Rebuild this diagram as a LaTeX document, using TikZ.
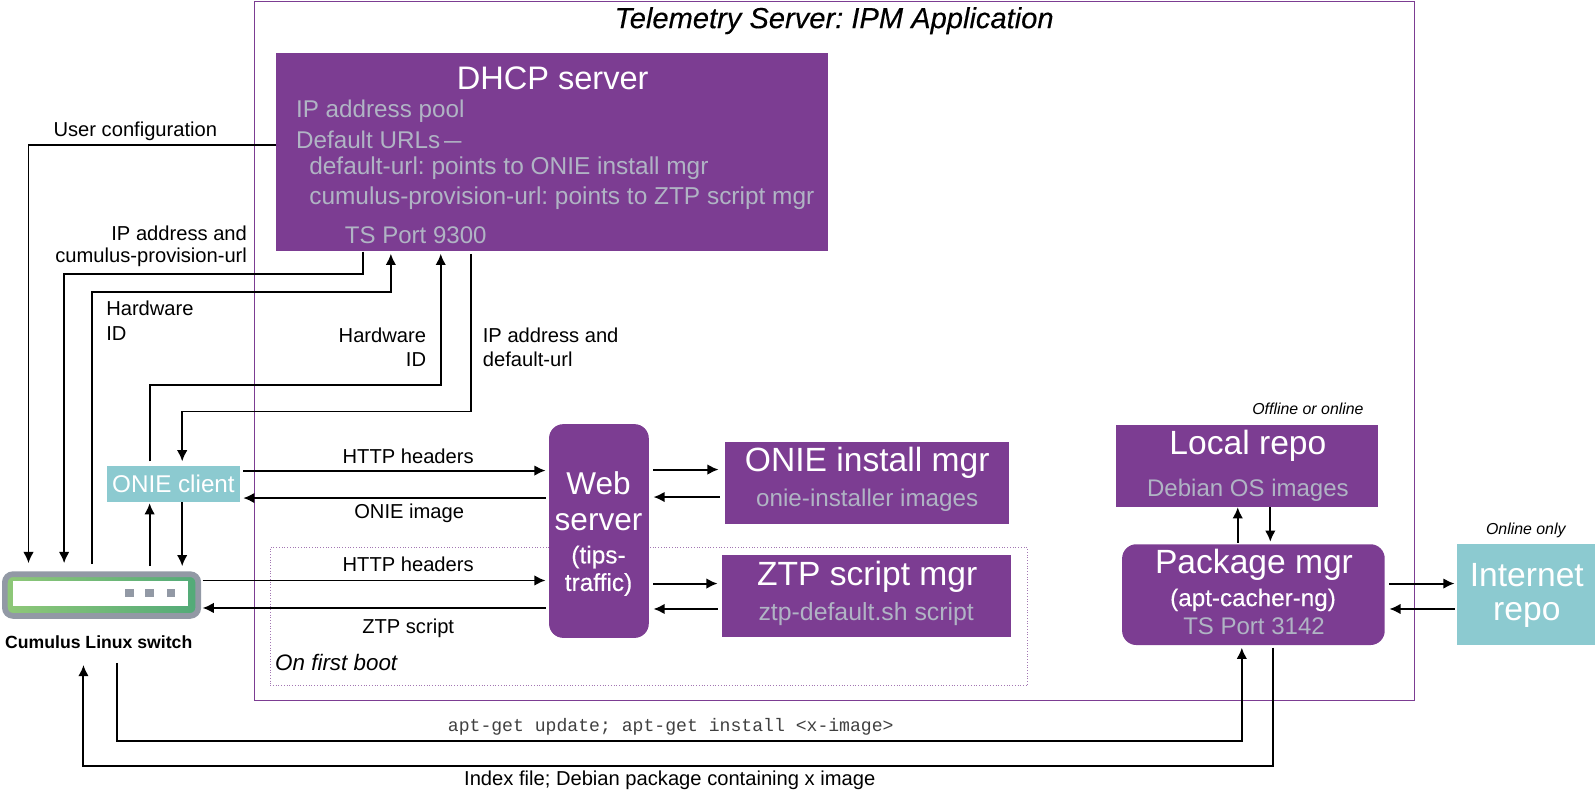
\documentclass[tikz,border=0pt]{standalone}
\usepackage{fontspec}
\setmainfont{Liberation Sans}
\setmonofont{Liberation Mono}
\newfontfamily\medf[FakeBold=0.25]{Liberation Sans}
\usetikzlibrary{arrows.meta,calc}
\definecolor{pur}{RGB}{124,61,146}
\definecolor{teal1}{RGB}{140,202,208}
\definecolor{lgray}{RGB}{176,180,196}
\definecolor{sgray}{RGB}{146,153,165}
\definecolor{gl}{RGB}{143,200,120}
\definecolor{gr}{RGB}{82,170,120}
\newcommand{\fs}[1]{\fontsize{#1}{#1}\selectfont}
\frenchspacing
\tikzset{
  x=0.5pt,y=-0.5pt,
  conn/.style={line width=0.95pt,black},
  arr/.style={conn,-{Latex[length=5.5pt,width=5.2pt]}},
  pbox/.style={fill=pur,draw=none,inner sep=0pt,anchor=north west},
  lab/.style={font=\fs{9.9},text=black,inner sep=0pt},
  grey/.style={text=lgray,inner sep=0pt},
  white/.style={text=white,inner sep=0pt},
  head/.style={text=white,inner sep=0pt,font=\fs{16.5}}
}
\newcommand{\boxat}[6][]{\node[pbox,#1,minimum width=#4*0.5pt,minimum height=#5*0.5pt] (#6) at (#2,#3) {};}
\begin{document}
\begin{tikzpicture}
\useasboundingbox (1,0.7) rectangle (1568,780.7);
% frame
\node[draw=pur,line width=0.4pt,inner sep=0pt,anchor=north west,minimum width=569.5pt,minimum height=343pt] (frame) at (251,2) {};
\node[inner sep=0pt,font=\medf\fs{14.3}\itshape] (title) at (820.5,21) {Telemetry Server: IPM Application};
\node[draw=pur!70,densely dotted,line width=0.35pt,inner sep=0pt,anchor=north west,minimum width=372pt,minimum height=68pt] (boot) at (266,538) {};
\node[inner sep=0pt,anchor=west,font=\fs{11}\itshape] (bootl) at (271,652) {On first boot};
% boxes
\boxat{272}{52}{542}{195}{dhcp}
\node[head,font=\fs{16}] (dhcpt) at (544,78) {DHCP server};
\node[grey,font=\fs{11.9},anchor=west] (d1) at (291.5,110) {IP address pool};
\node[grey,font=\fs{11.9},anchor=west] (d2) at (291.5,138) {Default URLs\,\scalebox{.72}[1]{—}};
\node[grey,font=\fs{12},anchor=west] (d3) at (304.5,166) {default-url: points to ONIE install mgr};
\node[grey,font=\fs{12},anchor=west] (d4) at (304.5,195) {cumulus-provision-url: points to ZTP script mgr};
\node[grey,font=\fs{11.8},anchor=west] (d5) at (339.5,232) {TS Port 9300};
\node[fill=teal1,inner sep=0pt,anchor=north west,minimum width=65pt,minimum height=17.5pt,text=white,font=\fs{11.9}] (onie) at (106,458) {ONIE client};
\node[fill=pur,rounded corners=7pt,inner sep=0pt,anchor=north west,minimum width=49pt,minimum height=105pt] (web) at (540,417) {};
\node[white,font=\fs{15.5}] (w1) at (589,475) {Web};
\node[white,font=\fs{15.5}] (w2) at (589,514) {server};
\node[white,font=\medf\fs{12}] (w3) at (589,548) {(tips-};
\node[white,font=\medf\fs{12}] (w4) at (589,575) {traffic)};
\boxat{713}{435}{279}{80}{oim}
\node[head] (oim1) at (853,455) {ONIE install mgr};
\node[grey,font=\fs{11.9}] (oim2) at (853,492) {onie-installer images};
\boxat{710}{546}{284}{80}{ztp}
\node[head] (ztp1) at (853,567) {ZTP script mgr};
\node[grey,font=\fs{12.2}] (ztp2) at (852,604) {ztp-default.sh script};
\boxat{1097}{418}{257}{80}{repo}
\node[head] (repo1) at (1227,439) {Local repo};
\node[grey,font=\fs{11.8}] (repo2) at (1227,482) {Debian OS images};
\node[fill=pur,rounded corners=7pt,inner sep=0pt,anchor=north west,minimum width=129pt,minimum height=49.5pt] (pkg) at (1103,535) {};
\node[head] (pkg1) at (1233,556) {Package mgr};
\node[white,font=\medf\fs{11.9}] (pkg2) at (1232,590) {(apt-cacher-ng)};
\node[grey,font=\fs{11.8}] (pkg3) at (1233,616) {TS Port 3142};
\node[fill=teal1,inner sep=0pt,anchor=north west,minimum width=68pt,minimum height=49.5pt] (inet) at (1432,535) {};
\node[head] (i1) at (1501,566) {Internet};
\node[head] (i2) at (1501,605) {repo};
\node[inner sep=0pt,font=\fs{7.8}\itshape] (off) at (1286,402) {Offline or online};
\node[inner sep=0pt,font=\fs{7.8}\itshape] (onl) at (1500,522) {Online only};
% switch
\node[draw=sgray,line width=2.8pt,rounded corners=4pt,left color=gl,right color=gr,inner sep=0pt,anchor=north west,minimum width=95pt,minimum height=20.5pt] (sw) at (3,562) {};
\node[fill=white,inner sep=0pt,anchor=north west,minimum width=86pt,minimum height=12.2pt] (swi) at (13,571) {};
\foreach \xx/\nn in {127/a,147/b,168/c} \node[fill=sgray,inner sep=0pt,minimum size=4.2pt] (sq\nn) at (\xx+1,583.5) {};
\node[inner sep=0pt,font=\fs{8.66}\bfseries] (swl) at (98,632) {Cumulus Linux switch};
% connectors
\coordinate (u1) at (29,143); \coordinate (u2) at (29,554);
\draw[arr] (dhcp.west |- u1) -- (u1) -- (u2);
\coordinate (c0) at (358,248); \coordinate (c1) at (358,270); \coordinate (c2) at (64,270); \coordinate (c3) at (64,554);
\draw[arr] (c0) -- (c1) -- (c2) -- (c3);
\coordinate (h0) at (91,555); \coordinate (h1) at (91,288); \coordinate (h2) at (385,288); \coordinate (h3) at (385,250);
\draw[arr] (h0) -- (h1) -- (h2) -- (h3);
\coordinate (k0) at (148,454); \coordinate (k1) at (148,379); \coordinate (k2) at (434,379); \coordinate (k3) at (434,250);
\draw[arr] (k0) -- (k1) -- (k2) -- (k3);
\coordinate (m0) at (464,250); \coordinate (m1) at (464,405); \coordinate (m2) at (180,405); \coordinate (m3) at (180,454);
\draw[arr] (m0) -- (m1) -- (m2) -- (m3);
\coordinate (s1) at (148,557); \coordinate (s2) at (148,495);
\draw[arr] (s1) -- (s2);
\coordinate (s3) at (180,494); \coordinate (s4) at (180,557);
\draw[arr] (s3) -- (s4);
\coordinate (t1) at (240,463); \coordinate (t2) at (537,463);
\draw[arr] (t1) -- (t2);
\coordinate (t3) at (537,490); \coordinate (t4) at (240,490);
\draw[arr] (t3) -- (t4);
\coordinate (v1) at (200,571); \coordinate (v2) at (537,571);
\draw[arr] (v1) -- (v2);
\coordinate (v3) at (537,598); \coordinate (v4) at (200,598);
\draw[arr] (v3) -- (v4);
\coordinate (a1) at (643,462); \coordinate (a2) at (707,462);
\draw[arr] (a1) -- (a2);
\coordinate (a3) at (708,489); \coordinate (a4) at (643,489);
\draw[arr] (a3) -- (a4);
\coordinate (b1) at (643,574); \coordinate (b2) at (706,574);
\draw[arr] (b1) -- (b2);
\coordinate (b3) at (706,599); \coordinate (b4) at (643,599);
\draw[arr] (b3) -- (b4);
\coordinate (e1) at (1217,534); \coordinate (e2) at (1217,499);
\draw[arr] (e1) -- (e2);
\coordinate (e3) at (1249,499); \coordinate (e4) at (1249,533);
\draw[arr] (e3) -- (e4);
\coordinate (f1) at (1366,574); \coordinate (f2) at (1430,574);
\draw[arr] (f1) -- (f2);
\coordinate (f3) at (1430,599); \coordinate (f4) at (1366,599);
\draw[arr] (f3) -- (f4);
\coordinate (g0) at (116,652); \coordinate (g1) at (116,729); \coordinate (g2) at (1221,729); \coordinate (g3) at (1221,637);
\draw[arr] (g0) -- (g1) -- (g2) -- (g3);
\coordinate (j0) at (1252,637); \coordinate (j1) at (1252,753); \coordinate (j2) at (83,753); \coordinate (j3) at (83,654);
\draw[arr] (j0) -- (j1) -- (j2) -- (j3);
% labels
\node[lab] (l1) at (134,130) {User configuration};
\node[lab,anchor=east] (l2) at (244,230) {IP address and};
\node[lab,anchor=east] (l3) at (244,253) {cumulus-provision-url};
\node[lab,anchor=west] (l4) at (105,304) {Hardware};
\node[lab,anchor=west] (l5) at (105,328) {ID};
\node[lab,anchor=east] (l6) at (420,330) {Hardware};
\node[lab,anchor=east] (l7) at (420,354) {ID};
\node[lab,anchor=west] (l8) at (475,330) {IP address and};
\node[lab,anchor=west] (l9) at (475,354) {default-url};
\node[lab] (l10) at (402,449) {HTTP headers};
\node[lab] (l11) at (403,505) {ONIE image};
\node[lab] (l12) at (402,555) {HTTP headers};
\node[lab] (l13) at (402,618) {ZTP script};
\node[inner sep=0pt,font=\fs{8.9}\ttfamily,text=black!75] (l14) at (660,715) {apt-get update; apt-get install <x-image>};
\node[lab] (l15) at (659,767) {Index file; Debian package containing x image};
\end{tikzpicture}
\end{document}
